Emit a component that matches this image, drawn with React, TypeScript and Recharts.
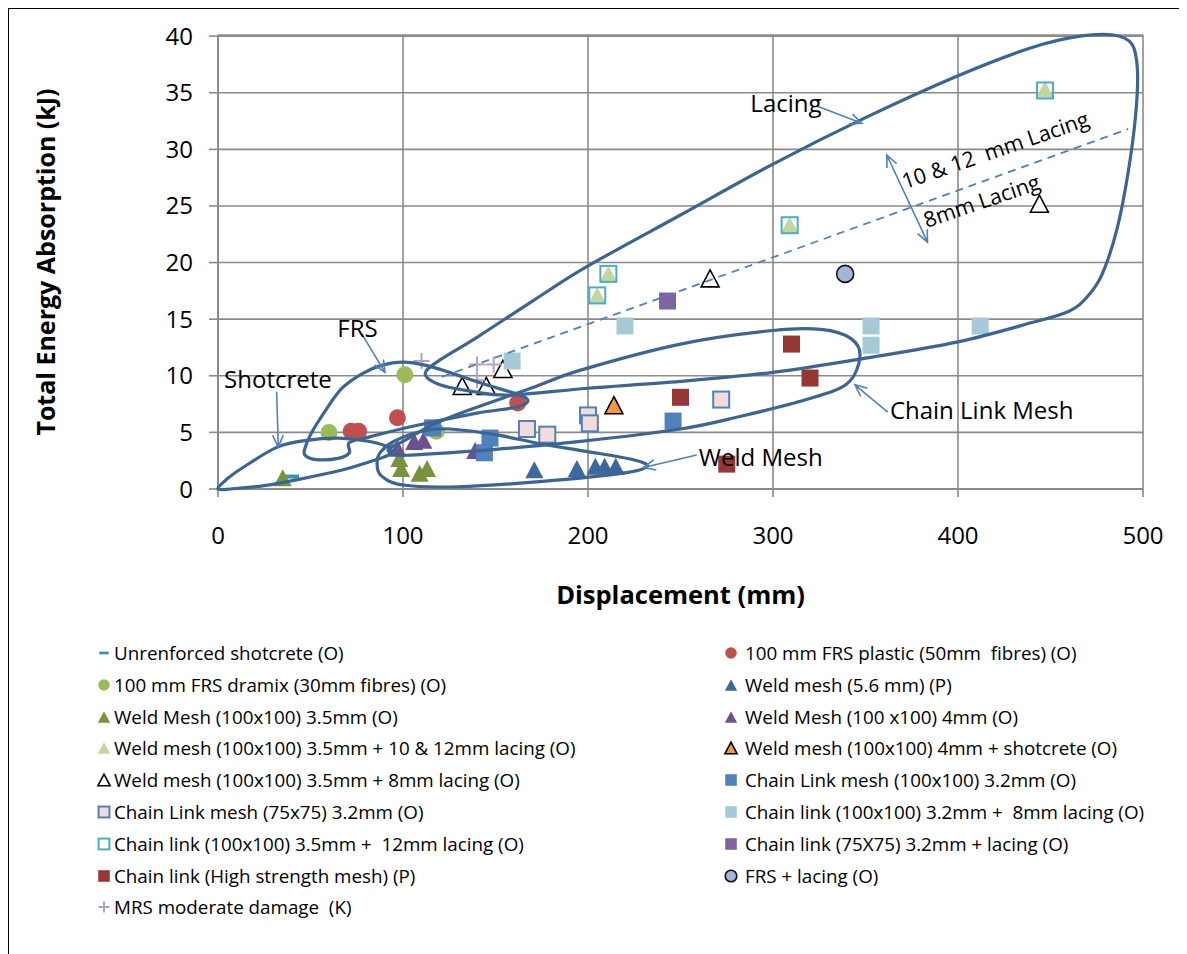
import React from 'react';
import { ScatterChart, Scatter, XAxis, YAxis, CartesianGrid, Label } from 'recharts';

type Pt = { x: number; y: number };

const FONT = '"Open Sans", sans-serif';
const GRID = '#8a8a8a';
const LOOP = '#3a6594';
const ARROW = '#4f81bd';

const xTicks = [0, 100, 200, 300, 400, 500];
const yTicks = [0, 5, 10, 15, 20, 25, 30, 35, 40];

// test results (displacement mm, energy kJ)
const unreinforcedShotcrete: Pt[] = [{ x: 40, y: 1.1 }];
const frsPlastic: Pt[] = [{ x: 72, y: 5.1 }, { x: 76, y: 5.1 }, { x: 97, y: 6.3 }, { x: 162, y: 7.6 }];
const frsDramix: Pt[] = [{ x: 60, y: 5.0 }, { x: 101, y: 10.1 }, { x: 118, y: 5.1 }];
const weldMesh56: Pt[] = [{ x: 171, y: 1.7 }, { x: 194, y: 1.8 }, { x: 204, y: 2.0 }, { x: 209, y: 2.0 }, { x: 215, y: 2.0 }];
const weldMesh35: Pt[] = [{ x: 35, y: 1.0 }, { x: 98, y: 2.7 }, { x: 99, y: 1.8 }, { x: 109, y: 1.4 }, { x: 113, y: 1.8 }];
const weldMesh4: Pt[] = [{ x: 97, y: 3.6 }, { x: 106, y: 4.2 }, { x: 111, y: 4.3 }, { x: 139, y: 3.4 }];
const weldLacing1012: Pt[] = [{ x: 205, y: 17.1 }, { x: 211, y: 19.0 }, { x: 309, y: 23.3 }, { x: 447, y: 35.3 }];
const weldShotcrete: Pt[] = [{ x: 214, y: 7.4 }];
const weldLacing8: Pt[] = [{ x: 132, y: 9.1 }, { x: 145, y: 9.1 }, { x: 154, y: 10.6 }, { x: 266, y: 18.6 }, { x: 444, y: 25.2 }];
const chainLink100: Pt[] = [{ x: 116, y: 5.4 }, { x: 147, y: 4.5 }, { x: 144, y: 3.2 }, { x: 246, y: 6.0 }];
const chainLink75: Pt[] = [{ x: 167, y: 5.3 }, { x: 178, y: 4.8 }, { x: 200, y: 6.5 }, { x: 201, y: 5.8 }, { x: 272, y: 7.9 }];
const chainLinkLacing8: Pt[] = [{ x: 159, y: 11.3 }, { x: 220, y: 14.4 }, { x: 353, y: 14.4 }, { x: 353, y: 12.7 }, { x: 412, y: 14.4 }];
const chainLinkLacing12: Pt[] = [{ x: 205, y: 17.1 }, { x: 211, y: 19.0 }, { x: 309, y: 23.3 }, { x: 447, y: 35.2 }];
const chainLink75Lacing: Pt[] = [{ x: 243, y: 16.6 }];
const chainLinkHigh: Pt[] = [{ x: 250, y: 8.1 }, { x: 275, y: 2.2 }, { x: 310, y: 12.8 }, { x: 320, y: 9.8 }];
const frsLacing: Pt[] = [{ x: 339, y: 19.0 }];
const mrsModerate: Pt[] = [{ x: 110, y: 11.3 }, { x: 140, y: 11.0 }, { x: 149, y: 11.0 }, { x: 140, y: 9.6 }];

// hand drawn groupings (data coordinates)
const lacingLoop: Pt[] = [
  { x: 112, y: 10.2 }, { x: 120, y: 11.4 }, { x: 140, y: 13.4 }, { x: 170, y: 16.6 }, { x: 200, y: 19.7 },
  { x: 250, y: 24.2 }, { x: 300, y: 28.7 }, { x: 350, y: 32.8 }, { x: 400, y: 36.5 }, { x: 440, y: 39.0 },
  { x: 466, y: 40.0 }, { x: 484, y: 40.1 }, { x: 494, y: 39.3 }, { x: 497, y: 37.0 }, { x: 496, y: 33.0 },
  { x: 492, y: 28.0 }, { x: 486, y: 23.0 }, { x: 478, y: 19.0 }, { x: 470, y: 17.0 }, { x: 460, y: 15.7 },
  { x: 440, y: 14.7 }, { x: 400, y: 13.0 }, { x: 348, y: 11.5 }, { x: 300, y: 10.3 }, { x: 250, y: 9.5 },
  { x: 200, y: 8.9 }, { x: 158, y: 8.3 }, { x: 138, y: 8.6 }, { x: 120, y: 9.2 },
];
const chainLinkLoop: Pt[] = [
  { x: 92, y: 3.5 }, { x: 100, y: 4.2 }, { x: 115, y: 5.6 }, { x: 131, y: 6.7 }, { x: 169, y: 8.9 },
  { x: 196, y: 10.5 }, { x: 250, y: 12.8 }, { x: 300, y: 14.0 }, { x: 326, y: 14.1 }, { x: 342, y: 13.3 },
  { x: 347, y: 11.7 }, { x: 340, y: 9.3 }, { x: 318, y: 7.9 }, { x: 282, y: 6.4 }, { x: 250, y: 5.3 },
  { x: 196, y: 4.2 }, { x: 150, y: 3.5 }, { x: 115, y: 3.1 }, { x: 98, y: 3.0 },
];
const weldMeshLoop: Pt[] = [
  { x: 88, y: 3.3 }, { x: 95, y: 4.2 }, { x: 110, y: 5.1 }, { x: 125, y: 5.3 }, { x: 150, y: 4.8 },
  { x: 174, y: 4.0 }, { x: 200, y: 3.3 }, { x: 224, y: 2.6 }, { x: 232, y: 2.0 }, { x: 219, y: 1.4 },
  { x: 174, y: 0.65 }, { x: 130, y: 0.2 }, { x: 100, y: 0.35 }, { x: 88, y: 1.2 }, { x: 86, y: 2.4 },
];
const frsLoop: Pt[] = [
  { x: 47, y: 3.6 }, { x: 50, y: 4.8 }, { x: 58, y: 6.9 }, { x: 67, y: 8.9 }, { x: 78, y: 10.2 },
  { x: 88, y: 10.9 }, { x: 100, y: 11.2 }, { x: 113, y: 10.9 }, { x: 125, y: 10.3 }, { x: 145, y: 9.2 },
  { x: 166, y: 8.1 }, { x: 163, y: 7.3 }, { x: 140, y: 6.7 }, { x: 104, y: 5.5 }, { x: 82, y: 4.6 },
  { x: 71, y: 4.1 }, { x: 71, y: 3.2 }, { x: 65, y: 2.7 }, { x: 53, y: 2.6 }, { x: 47, y: 3.0 },
];
const shotcreteLoop: Pt[] = [
  { x: 0, y: 0 }, { x: 5, y: 0.9 }, { x: 13.5, y: 1.9 }, { x: 32, y: 3.7 }, { x: 48, y: 4.3 },
  { x: 65, y: 4.5 }, { x: 82, y: 4.2 }, { x: 93, y: 3.6 }, { x: 92, y: 3.0 }, { x: 80, y: 2.3 },
  { x: 67.6, y: 1.7 }, { x: 45, y: 0.9 }, { x: 25, y: 0.3 }, { x: 8, y: 0.02 },
];
const trendLacing: Pt[] = [{ x: 121, y: 9.9 }, { x: 492, y: 31.8 }];

const arrows: { from: Pt; to: Pt; both?: boolean }[] = [
  { from: { x: 324, y: 33.8 }, to: { x: 348, y: 32.3 } },
  { from: { x: 77.7, y: 13.7 }, to: { x: 90.3, y: 10.3 } },
  { from: { x: 31.7, y: 8.6 }, to: { x: 32.6, y: 3.7 } },
  { from: { x: 362, y: 6.8 }, to: { x: 344.3, y: 9.2 } },
  { from: { x: 258.8, y: 3.0 }, to: { x: 230, y: 1.9 } },
  { from: { x: 361.5, y: 29.5 }, to: { x: 383.5, y: 21.8 }, both: true },
];

const notes = [
  { x: 32.4, y: 9.8, text: 'Shotcrete', angle: 0 },
  { x: 75.4, y: 14.3, text: 'FRS', angle: 0 },
  { x: 307, y: 34.1, text: 'Lacing', angle: 0 },
  { x: 412.8, y: 7.0, text: 'Chain Link Mesh', angle: 0 },
  { x: 293.4, y: 2.85, text: 'Weld Mesh', angle: 0 },
  { x: 420, y: 30.0, text: '10 & 12  mm Lacing', angle: -19 },
  { x: 412.7, y: 25.5, text: '8mm Lacing', angle: -19 },
];

type Marker = { shape: string; fill: string; stroke?: string; sw?: number };

const series: { name: string; data: Pt[]; m: Marker }[] = [
  { name: 'Unrenforced shotcrete (O)', data: unreinforcedShotcrete, m: { shape: 'dash', fill: '#3a96b0' } },
  { name: '100 mm FRS plastic (50mm  fibres) (O)', data: frsPlastic, m: { shape: 'circle', fill: '#c0504d' } },
  { name: '100 mm FRS dramix (30mm fibres) (O)', data: frsDramix, m: { shape: 'circle', fill: '#9bbb59' } },
  { name: 'Weld mesh (5.6 mm) (P)', data: weldMesh56, m: { shape: 'triangle', fill: '#3c689b' } },
  { name: 'Weld Mesh (100x100) 3.5mm (O)', data: weldMesh35, m: { shape: 'triangle', fill: '#77933c' } },
  { name: 'Weld Mesh (100 x100) 4mm (O)', data: weldMesh4, m: { shape: 'triangle', fill: '#6b5191' } },
  { name: 'Weld mesh (100x100) 3.5mm + 10 & 12mm lacing (O)', data: weldLacing1012, m: { shape: 'triangle', fill: '#c3d69b' } },
  { name: 'Weld mesh (100x100) 4mm + shotcrete (O)', data: weldShotcrete, m: { shape: 'triangle', fill: '#f79646', stroke: '#000', sw: 1.6 } },
  { name: 'Weld mesh (100x100) 3.5mm + 8mm lacing (O)', data: weldLacing8, m: { shape: 'triangle', fill: '#fff', stroke: '#000', sw: 1.6 } },
  { name: 'Chain Link mesh (100x100) 3.2mm (O)', data: chainLink100, m: { shape: 'square', fill: '#4f81bd' } },
  { name: 'Chain Link mesh (75x75) 3.2mm (O)', data: chainLink75, m: { shape: 'square', fill: '#f2dcdb', stroke: '#4f81bd', sw: 2 } },
  { name: 'Chain link (100x100) 3.2mm +  8mm lacing (O)', data: chainLinkLacing8, m: { shape: 'square', fill: '#a5c9d6' } },
  { name: 'Chain link (100x100) 3.5mm +  12mm lacing (O)', data: chainLinkLacing12, m: { shape: 'square', fill: 'none', stroke: '#4bacc6', sw: 2 } },
  { name: 'Chain link (75X75) 3.2mm + lacing (O)', data: chainLink75Lacing, m: { shape: 'square', fill: '#8064a2' } },
  { name: 'Chain link (High strength mesh) (P)', data: chainLinkHigh, m: { shape: 'square', fill: '#953735' } },
  { name: 'FRS + lacing (O)', data: frsLacing, m: { shape: 'circle', fill: '#a3b5d9', stroke: '#111', sw: 1.6 } },
  { name: 'MRS moderate damage  (K)', data: mrsModerate, m: { shape: 'plus', fill: '#b3a2c7' } },
];

const drawMarker = (m: Marker, cx: number, cy: number, s = 1) => {
  const st = { fill: m.fill, stroke: m.stroke || 'none', strokeWidth: m.sw || 0 };
  if (m.shape === 'circle') return <circle cx={cx} cy={cy} r={8.5 * s} {...st} />;
  if (m.shape === 'square') {
    const h = (m.stroke ? 8 : 8.5) * s;
    return <rect x={cx - h} y={cy - h} width={2 * h} height={2 * h} {...st} />;
  }
  if (m.shape === 'triangle') {
    const w = 9 * s, h = 8.5 * s;
    return <polygon points={`${cx},${cy - h} ${cx + w},${cy + h} ${cx - w},${cy + h}`} {...st} />;
  }
  if (m.shape === 'dash') return <rect x={cx - 7 * s} y={cy - 2 * s} width={14 * s} height={4 * s} fill={m.fill} />;
  const p = 8 * s;
  return <path d={`M${cx - p},${cy}H${cx + p}M${cx},${cy - p}V${cy + p}`} stroke={m.fill} strokeWidth={2} />;
};

const closedSpline = (pts: { x: number; y: number }[]) => {
  const n = pts.length;
  let d = `M${pts[0].x},${pts[0].y}`;
  for (let i = 0; i < n; i++) {
    const p0 = pts[(i - 1 + n) % n], p1 = pts[i], p2 = pts[(i + 1) % n], p3 = pts[(i + 2) % n];
    d += ` C${p1.x + (p2.x - p0.x) / 6},${p1.y + (p2.y - p0.y) / 6} ${p2.x - (p3.x - p1.x) / 6},${p2.y - (p3.y - p1.y) / 6} ${p2.x},${p2.y}`;
  }
  return d + 'Z';
};

const head = (tip: { x: number; y: number }, from: { x: number; y: number }) => {
  const a = Math.atan2(from.y - tip.y, from.x - tip.x);
  const l = 13, s = 0.42;
  return ` M${tip.x + l * Math.cos(a + s)},${tip.y + l * Math.sin(a + s)} L${tip.x},${tip.y} L${tip.x + l * Math.cos(a - s)},${tip.y + l * Math.sin(a - s)}`;
};

const none = () => <g />;

const App = () => {
  return (
    <div style={{ position: 'relative', width: 1200, height: 980, border: '2px solid #000', boxSizing: 'border-box', margin: '-1px 0 0 -1px', fontFamily: FONT, background: '#fff' }}>
      <ScatterChart width={1160} height={625} margin={{ top: 26, right: 26, left: 149, bottom: 45 }} style={{ fontFamily: FONT }}>
        <CartesianGrid stroke={GRID} strokeWidth={1.6} />
        <XAxis type="number" dataKey="x" domain={[0, 500]} ticks={xTicks} height={100} tickSize={8} tickMargin={30}
          axisLine={{ stroke: GRID, strokeWidth: 2 }} tickLine={{ stroke: GRID, strokeWidth: 1.6 }}
          tick={{ fill: '#000', fontSize: 24, fontFamily: FONT }}>
          <Label content={(p: any) => {
            const vb = p.viewBox || { x: 209, y: 480, width: 925 };
            return <text x={vb.x + vb.width / 2} y={vb.y + 115} textAnchor="middle" fontSize={25.5} fontWeight="bold" fontFamily={FONT} fill="#000">Displacement (mm)</text>;
          }} />
        </XAxis>
        <YAxis type="number" dataKey="y" domain={[0, 40]} ticks={yTicks} width={60} tickSize={9} tickMargin={16}
          axisLine={{ stroke: GRID, strokeWidth: 2 }} tickLine={{ stroke: GRID, strokeWidth: 1.6 }}
          tick={{ fill: '#000', fontSize: 24, fontFamily: FONT }}>
          <Label content={(p: any) => {
            const vb = p.viewBox || { x: 149, y: 26, height: 454 };
            const cx = vb.x - 113, cy = vb.y + vb.height / 2;
            return <text x={cx} y={cy} transform={`rotate(-90 ${cx} ${cy})`} textAnchor="middle" dominantBaseline="central" fontSize={25} fontWeight="bold" fontFamily={FONT} fill="#000">Total Energy Absorption (kJ)</text>;
          }} />
        </YAxis>
        {series.map((s) => (
          <Scatter key={s.name} name={s.name} data={s.data} isAnimationActive={false}
            shape={(p: any) => drawMarker(s.m, p.cx, p.cy)} />
        ))}
        {[lacingLoop, chainLinkLoop, weldMeshLoop, frsLoop, shotcreteLoop].map((loop, i) => (
          <Scatter key={'loop' + i} data={loop} isAnimationActive={false} legendType="none" shape={none}
            line={(p: any) => <path d={closedSpline(p.points)} fill="none" stroke={LOOP} strokeWidth={3.2} />} />
        ))}
        <Scatter data={trendLacing} isAnimationActive={false} legendType="none" shape={none}
          line={{ stroke: ARROW, strokeWidth: 1.8, strokeDasharray: '8 6' }} />
        {arrows.map((a, i) => (
          <Scatter key={'arr' + i} data={[a.from, a.to]} isAnimationActive={false} legendType="none" shape={none}
            line={(p: any) => {
              const [f, t] = p.points;
              const d = `M${f.x},${f.y} L${t.x},${t.y}` + head(t, f) + (a.both ? head(f, t) : '');
              return <path d={d} fill="none" stroke={ARROW} strokeWidth={1.6} />;
            }} />
        ))}
        <Scatter data={notes} isAnimationActive={false} legendType="none"
          shape={(p: any) => {
            const n = p.payload;
            const small = n.angle !== 0;
            return <text x={p.cx} y={p.cy} textAnchor="middle" dominantBaseline="central" fontSize={small ? 21.5 : 24} fontFamily={FONT} fill="#000"
              transform={`rotate(${n.angle} ${p.cx} ${p.cy})`} style={{ whiteSpace: 'pre' }}>{n.text}</text>;
          }} />
      </ScatterChart>
      {series.map((s, k) => {
        const col = k % 2, row = Math.floor(k / 2);
        const top = 644 + 31.8 * row;
        const mx = col === 0 ? 95 : 722;
        const tx = col === 0 ? 105 : 736;
        return (
          <React.Fragment key={'lg' + k}>
            <svg style={{ position: 'absolute', left: mx - 8, top: top - 8 }} width={16} height={16}>
              {drawMarker(s.m, 8, 8, 0.68)}
            </svg>
            <div style={{ position: 'absolute', left: tx, top: top - 13, height: 26, lineHeight: '26px', fontSize: 18.8, whiteSpace: 'pre', color: '#000' }}>{s.name}</div>
          </React.Fragment>
        );
      })}
    </div>
  );
};

export default App;
